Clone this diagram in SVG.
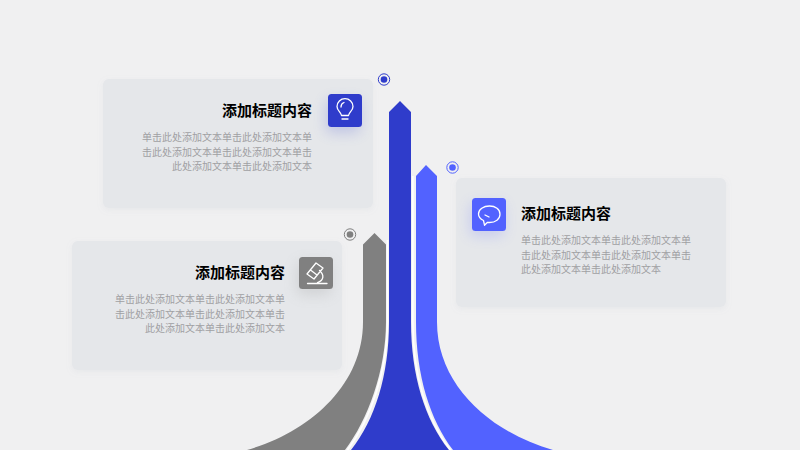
<svg xmlns="http://www.w3.org/2000/svg" width="800" height="450" viewBox="0 0 800 450">
<defs>
<filter id="cs" x="-10%" y="-10%" width="120%" height="125%"><feDropShadow dx="0" dy="2" stdDeviation="3" flood-color="#9aa0aa" flood-opacity="0.1"/></filter>
<filter id="is" x="-80%" y="-80%" width="260%" height="260%"><feGaussianBlur stdDeviation="7"/></filter>
</defs>
<style>
text{font-family:"Noto Sans CJK SC","Noto Sans",sans-serif}
.card{fill:#e5e7ea;filter:url(#cs)}
.t{font-size:15px;font-weight:700;fill:#000}
.b{font-size:10px;fill:#a0a0a3}
.e{text-anchor:end}
.ic{fill:none;stroke:#fff;stroke-width:1.3;stroke-linecap:round;stroke-linejoin:round}
.halo{fill:none;stroke-width:1}
</style>
<rect width="800" height="450" fill="#f0f0f1"/>
<g id="connectors">
<path d="M374.500 233L386 244.500V322C386 370 368 420 345 450H247C310 432 363 385 363 322V244.500Z" fill="#808080"/>
<path d="M426 165L437 176V322C437 385 490 432 553 450H453C430 420 416 375 416 322V176Z" fill="#5262ff"/>
<path d="M400 101L411 112V322C411 375 425 420 449 450H351C375 420 389 375 389 322V112Z" fill="#2f3ccb"/>
<path d="M387.500 240V322C387.500 372 370 420 347.500 450M412.800 176V322C412.800 375 427 420 450.500 450" fill="none" stroke="#fff" stroke-width="1.700"/>
</g>
<g id="node-top">
<rect class="card" x="103" y="79" width="270" height="129" rx="6"/>
<rect x="326" y="100" width="34" height="33" rx="4" fill="#2f3ccb" opacity="0.2" filter="url(#is)"/>
<rect x="328" y="94" width="34" height="33" rx="3.500" fill="#2f3ccb"/>
<path class="ic" d="M341.500 115.500C341 112 337 110.800 337 106.500A8 7.800 0 0 1 353 106.500C353 110.800 349 112 348.500 115.500ZM342 119H348M341 107C341 104.800 342.500 103 344 102.500"/>
<text class="t e" x="312" y="116">添加标题内容</text>
<text class="b e" x="312" y="141">单击此处添加文本单击此处添加文本单</text>
<text class="b e" x="312" y="155.500">击此处添加文本单击此处添加文本单击</text>
<text class="b e" x="312" y="170">此处添加文本单击此处添加文本</text>
<circle cx="384" cy="79.500" r="3.300" fill="#2f3ccb"/><circle class="halo" cx="384" cy="79.500" r="5.700" stroke="#2f3ccb"/>
</g>
<g id="node-right">
<rect class="card" x="456" y="178" width="270" height="129" rx="6"/>
<rect x="470" y="203" width="34" height="33" rx="4" fill="#5262ff" opacity="0.2" filter="url(#is)"/>
<rect x="472" y="198" width="34" height="33" rx="3.500" fill="#5262ff"/>
<path class="ic" d="M483.500 220.500C480.500 219 478.500 217 478.500 214C478.500 209.500 483.500 206 489.500 206C495.500 206 500 209.500 500 214.200C500 219 495.500 222.500 489.500 222.500C488.800 222.500 488 222.400 487.500 222.300L484.500 225.200ZM485 215L489 217"/>
<text class="t" x="521" y="218.500">添加标题内容</text>
<text class="b" x="521" y="244">单击此处添加文本单击此处添加文本单</text>
<text class="b" x="521" y="258.500">击此处添加文本单击此处添加文本单击</text>
<text class="b" x="521" y="273">此处添加文本单击此处添加文本</text>
<circle cx="452.500" cy="167.500" r="3.300" fill="#5262ff"/><circle class="halo" cx="452.500" cy="167.500" r="5.700" stroke="#5262ff"/>
</g>
<g id="node-left">
<rect class="card" x="72" y="241" width="270" height="129" rx="6"/>
<rect x="297" y="262" width="34" height="33" rx="4" fill="#808080" opacity="0.2" filter="url(#is)"/>
<rect x="299" y="257" width="34" height="32" rx="3.500" fill="#808080"/>
<path class="ic" d="M307 274L316 263L323 268L314 279ZM310.500 270L317 275M319.500 270.500C324.500 275 324 280.500 317.500 282.500M307.500 283.500H327"/>
<text class="t e" x="285" y="278">添加标题内容</text>
<text class="b e" x="285" y="303">单击此处添加文本单击此处添加文本单</text>
<text class="b e" x="285" y="317.500">击此处添加文本单击此处添加文本单击</text>
<text class="b e" x="285" y="332">此处添加文本单击此处添加文本</text>
<circle cx="350" cy="234.500" r="3.300" fill="#808080"/><circle class="halo" cx="350" cy="234.500" r="5.700" stroke="#808080"/>
</g>
</svg>
